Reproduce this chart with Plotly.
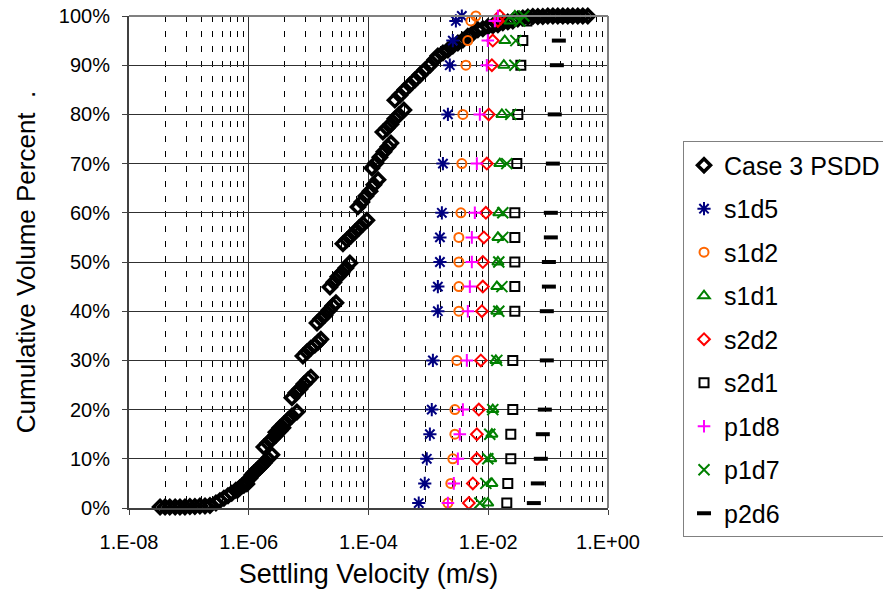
import plotly.graph_objects as go

# ---------------- data ----------------
psdd_v = [
    3.3e-8, 4.0e-8, 4.8e-8, 5.9e-8, 7.1e-8, 8.6e-8, 1.04e-7, 1.26e-7, 1.53e-7, 1.86e-7, 2.25e-7,
    2.83e-7, 3.3e-7, 3.85e-7, 4.5e-7, 5.2e-7, 6.1e-7, 7.1e-7, 8.3e-7, 9.3e-7,
    6.6e-7, 7.7e-7, 9.0e-7, 1.05e-6, 1.22e-6, 1.42e-6, 1.66e-6,
    1.13e-6, 1.32e-6, 1.54e-6, 1.79e-6, 2.09e-6, 2.44e-6,
    1.79e-6, 2.09e-6, 2.44e-6, 2.84e-6, 3.32e-6, 3.72e-6,
    2.84e-6, 3.32e-6, 3.87e-6, 4.51e-6, 5.26e-6, 6.38e-6,
    5.26e-6, 6.14e-6, 7.16e-6, 8.35e-6, 9.73e-6, 1.09e-5,
    8.03e-6, 9.37e-6, 1.09e-5, 1.27e-5, 1.43e-5, 1.60e-5,
    1.38e-5, 1.60e-5, 1.87e-5, 2.18e-5, 2.54e-5, 2.86e-5,
    2.27e-5, 2.64e-5, 3.08e-5, 3.60e-5, 4.19e-5, 4.89e-5,
    3.74e-5, 4.36e-5, 5.08e-5, 5.93e-5, 6.91e-5, 8.06e-5, 9.40e-5,
    6.65e-5, 7.76e-5, 9.05e-5, 1.06e-4, 1.23e-4, 1.44e-4,
    1.14e-4, 1.33e-4, 1.55e-4, 1.81e-4, 2.11e-4, 2.37e-4,
    1.74e-4, 2.03e-4, 2.37e-4, 2.76e-4, 3.22e-4, 3.90e-4,
    2.76e-4, 3.34e-4, 4.05e-4, 4.91e-4, 5.95e-4, 7.21e-4, 8.74e-4, 1.06e-3, 1.28e-3,
    1.44e-3, 1.75e-3, 2.12e-3, 2.56e-3, 3.11e-3, 3.77e-3, 4.56e-3, 5.53e-3, 6.70e-3,
    8.12e-3, 9.84e-3, 1.19e-2, 1.45e-2, 1.75e-2, 2.12e-2, 2.57e-2, 3.12e-2, 3.78e-2, 4.58e-2,
    5.55e-2, 6.73e-2, 8.15e-2, 9.88e-2, 0.120, 0.145, 0.176, 0.213, 0.258, 0.313, 0.379, 0.460,
]
psdd_pct = [
    0.2, 0.2, 0.2, 0.2, 0.2, 0.2, 0.3, 0.3, 0.4, 0.4, 0.5,
    1.0, 1.5, 2.0, 2.5, 3.0, 3.6, 4.1, 4.6, 4.9,
    3.7, 4.5, 5.3, 6.1, 7.1, 7.9, 8.7,
    6.7, 7.5, 8.3, 9.1, 10.0, 10.8,
    12.4, 13.2, 14.0, 14.8, 15.7, 16.3,
    15.4, 16.3, 17.1, 17.9, 18.7, 19.5,
    22.4, 23.4, 24.2, 25.2, 26.0, 26.6,
    30.9, 31.7, 32.5, 33.1, 33.7, 34.3,
    37.6, 38.4, 39.2, 40.2, 41.1, 41.7,
    44.9, 45.9, 47.0, 47.8, 48.8, 49.8,
    53.7, 54.5, 55.3, 56.1, 56.9, 57.7, 58.5,
    61.2, 62.2, 63.4, 64.4, 65.7, 66.7,
    69.1, 70.1, 71.3, 72.4, 73.4, 74.2,
    76.4, 77.2, 78.0, 79.1, 79.9, 80.9,
    82.9, 83.9, 85.0, 86.0, 87.0, 88.0, 89.0, 90.0, 91.1,
    91.9, 92.5, 93.1, 93.9, 94.5, 95.1, 95.9, 96.5, 97.2,
    97.4, 97.8, 98.0, 98.2, 98.6, 98.8, 99.0, 99.4, 99.6, 99.8,
    99.9, 99.9, 99.9, 100, 100, 100, 100, 100, 100, 100, 100, 100,
]

pct_levels = [1, 5, 10, 15, 20, 30, 40, 45, 50, 55, 60, 70, 80, 90, 95, 99, 100]

s1d5 = [6.9e-4, 8.7e-4, 9.4e-4, 1.06e-3, 1.14e-3, 1.19e-3, 1.44e-3, 1.44e-3, 1.56e-3, 1.56e-3,
        1.68e-3, 1.75e-3, 2.12e-3, 2.28e-3, 2.56e-3, 2.88e-3, 3.62e-3]
s1d2 = [2.12e-3, 2.37e-3, 2.56e-3, 2.77e-3, 2.77e-3, 2.99e-3, 3.23e-3, 3.23e-3, 3.23e-3, 3.23e-3,
        3.49e-3, 3.62e-3, 3.77e-3, 4.23e-3, 4.56e-3, 5.12e-3, 6.21e-3]
s1d1 = [9.8e-3, 1.15e-2, 1.10e-2, 1.15e-2, 1.19e-2, 1.34e-2, 1.39e-2, 1.39e-2, 1.45e-2, 1.45e-2,
        1.50e-2, 1.56e-2, 1.69e-2, 1.82e-2, 1.89e-2, 2.29e-2, 2.78e-2]
s2d2 = [4.74e-3, 5.53e-3, 6.45e-3, 6.45e-3, 6.96e-3, 7.52e-3, 7.82e-3, 8.12e-3, 8.12e-3, 8.44e-3,
        9.12e-3, 9.47e-3, 1.02e-2, 1.15e-2, 1.19e-2, 1.45e-2, 1.56e-2]
s2d1 = [2.04e-2, 2.12e-2, 2.38e-2, 2.38e-2, 2.57e-2, 2.57e-2, 2.78e-2, 2.78e-2, 2.78e-2, 2.78e-2,
        2.78e-2, 3.00e-2, 3.12e-2, 3.50e-2, 3.78e-2, 4.41e-2, 6.00e-2]
p1d8 = [2.12e-3, 2.66e-3, 3.11e-3, 3.35e-3, 3.77e-3, 4.39e-3, 4.56e-3, 4.93e-3, 5.32e-3, 5.32e-3,
        5.97e-3, 6.45e-3, 7.24e-3, 9.47e-3, 9.84e-3, 1.29e-2, 1.45e-2]
p1d7 = [7.24e-3, 9.12e-3, 9.84e-3, 1.06e-2, 1.19e-2, 1.39e-2, 1.50e-2, 1.69e-2, 1.50e-2, 1.75e-2,
        1.75e-2, 2.04e-2, 2.38e-2, 2.78e-2, 2.89e-2, 3.37e-2, 3.93e-2]
p2d6 = [5.77e-2, 6.73e-2, 7.55e-2, 8.15e-2, 8.81e-2, 9.51e-2, 9.51e-2, 0.103, 0.103, 0.111,
        0.111, 0.120, 0.129, 0.140, 0.151, 0.190, 0.230]

x_tickvals = [1e-8, 1e-6, 1e-4, 1e-2, 1]
x_ticktext = ["1.E-08", "1.E-06", "1.E-04", "1.E-02", "1.E+00"]

# ---------------- figure ----------------
FONT = "Liberation Sans, Arial, sans-serif"
fig = go.Figure()

def add(x, y, name, symbol, size, color, lw):
    fig.add_trace(go.Scatter(
        x=x, y=y, mode="markers", name=name, legendgroup=name, cliponaxis=False,
        marker=dict(symbol=symbol, size=size, color=color, line=dict(width=lw, color=color)),
    ))

add(psdd_v, psdd_pct, "Case 3 PSDD", "diamond-open", 10, "black", 3.5)
add(s1d5, pct_levels, "s1d5", "asterisk-open", 11, "#000080", 2)
add(s1d2, pct_levels, "s1d2", "circle-open", 9, "#FF6600", 2)
add(s1d1, pct_levels, "s1d1", "triangle-up-open", 10, "#008000", 2)
add(s2d2, pct_levels, "s2d2", "diamond-open", 9, "#FF0000", 2)
add(s2d1, pct_levels, "s2d1", "square-open", 9, "black", 2)
add(p1d8, pct_levels, "p1d8", "cross-thin-open", 9, "#FF00FF", 2)
add(p1d7, pct_levels, "p1d7", "x-thin-open", 11, "#008000", 2)
add(p2d6, pct_levels, "p2d6", "line-ew-open", 10, "black", 4)

# minor (dashed) gridlines as drawn by the original chart: n^2 multiples inside each 2-decade step
minor_vals = [b * n * n for b in (1e-8, 1e-6, 1e-4, 1e-2) for n in range(2, 10)]

fig.update_layout(
    width=883, height=596,
    margin=dict(l=129, r=275, t=16, b=88, autoexpand=False),
    paper_bgcolor="white", plot_bgcolor="white",
    font=dict(family=FONT, size=20, color="black"),
    showlegend=True,
    legend=dict(
        x=1.1566, y=0.745, xanchor="left", yanchor="top",
        bordercolor="#808080", borderwidth=1, bgcolor="white",
        font=dict(family=FONT, size=25, color="black"),
        tracegroupgap=8, itemsizing="trace",
    ),
    xaxis=dict(
        type="log", range=[-8, 0],
        tickmode="array", tickvals=x_tickvals, ticktext=x_ticktext,
        showgrid=True, gridcolor="#303030", gridwidth=1,
        showline=True, linecolor="#404040", linewidth=2,
        ticks="outside", ticklen=5, tickcolor="#404040",
        ticklabelstandoff=10,
        zeroline=False,
        minor=dict(tickvals=minor_vals, showgrid=True, gridcolor="black",
                   griddash="6px,9px", gridwidth=1, ticks=""),
        title=dict(text="Settling Velocity (m/s)", font=dict(family=FONT, size=27), standoff=12),
    ),
    yaxis=dict(
        range=[0, 100], tickmode="linear", tick0=0, dtick=10, ticksuffix="%",
        showgrid=True, gridcolor="#303030", gridwidth=1,
        showline=True, linecolor="#404040", linewidth=2,
        ticks="outside", ticklen=5, tickcolor="#404040",
        ticklabelstandoff=8,
        zeroline=False,
        title=dict(text="Cumulative Volume Percent" + "\u00a0" * 2 + ".",
                   font=dict(family=FONT, size=26), standoff=16),
    ),
    shapes=[
        dict(type="line", xref="paper", yref="paper", x0=1, x1=1, y0=0, y1=1,
             line=dict(color="#808080", width=2)),
        dict(type="line", xref="paper", yref="paper", x0=0, x1=1, y0=1, y1=1,
             line=dict(color="#808080", width=2)),
    ],
)

fig.write_html("out.html")
